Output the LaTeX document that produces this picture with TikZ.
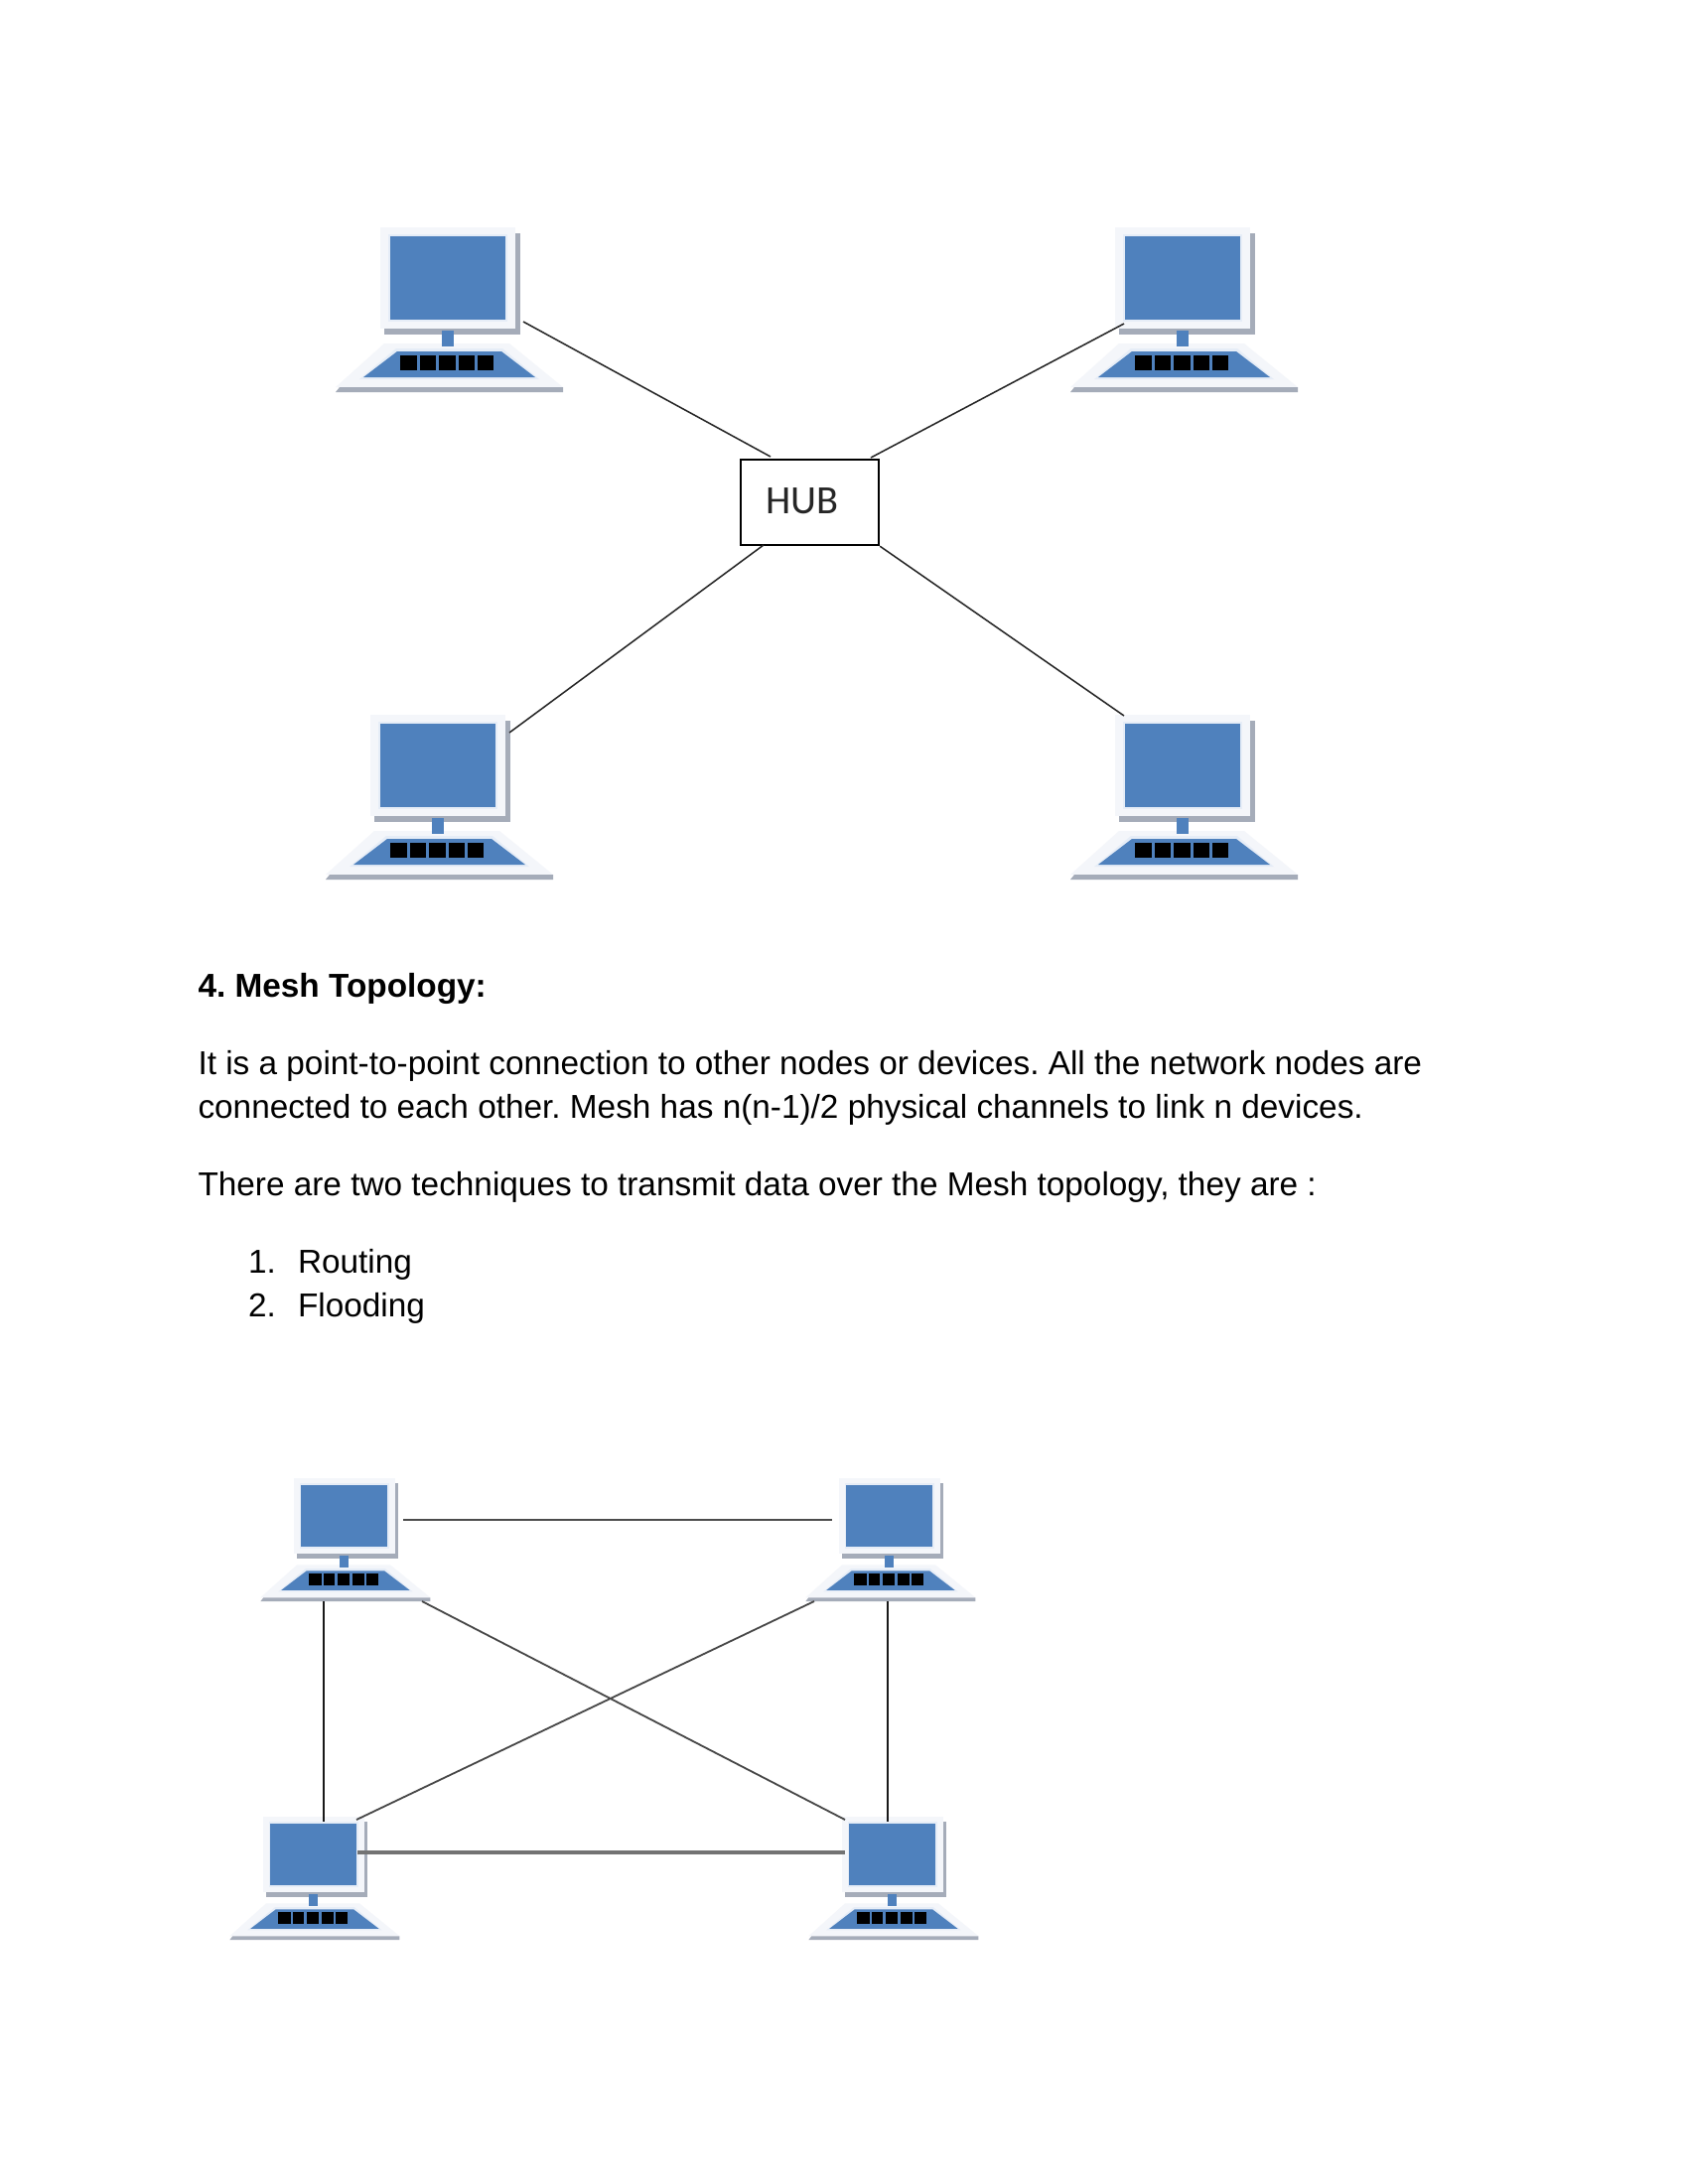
\documentclass[tikz,border=0pt]{standalone}
\usepackage{fontspec}
\setmainfont{Liberation Sans}
\newfontfamily\hubfont{Carlito}
\definecolor{pcblue}{HTML}{4F81BD}
\definecolor{pcglow}{HTML}{E6EDF7}
\definecolor{pcbezel}{HTML}{F4F6FA}
\definecolor{pcshadow}{HTML}{A5ACB9}
\tikzset{
  body/.style={anchor=base west,inner sep=0pt,outer sep=0pt,font=\frenchspacing\fontsize{12.05pt}{14pt}\selectfont,text=black},
  headtext/.style={body,font=\frenchspacing\fontsize{12.05pt}{14pt}\selectfont\bfseries},
  hubbox/.style={draw=black,line width=0.8bp,fill=white,anchor=north west,inner sep=0pt,minimum width=50.04bp,minimum height=30.96bp},
  hubline/.style={draw=black!85,line width=0.55bp},
  meshv/.style={draw=black!90,line width=0.6bp},
  meshd/.style={draw=black!72,line width=0.65bp},
  meshh/.style={draw=black!70,line width=0.75bp},
  meshb/.style={draw=black!55,line width=1.1bp}
}
% #1 name, #2 x, #3 y, #4 scale
\newcommand{\pcicon}[4]{%
  \begin{scope}[shift={(#2,#3)},scale=#4]
    \fill[pcshadow] (136,6) rectangle (141,108);
    \fill[pcshadow] (4,102) rectangle (141,108);
    \fill[pcbezel] (0,0) rectangle (136,102);
    \fill[pcglow] (8,7) rectangle (128,95);
    \fill[pcblue] (10,9) rectangle (126,93);
    \fill[pcbezel] (4,117) -- (130,117) -- (184,161) -- (-45,161) -- cycle;
    \fill[pcglow] (16,122) -- (123,122) -- (160,153) -- (-21,153) -- cycle;
    \fill[pcblue] (17,125) -- (122,125) -- (156,151) -- (-17,151) -- cycle;
    \fill[pcblue] (62,104) rectangle (74,120);
    \fill[black] (20,129) rectangle (37,144);
    \fill[black] (39.5,129) rectangle (55.5,144);
    \fill[black] (59,129) rectangle (75.5,144);
    \fill[black] (78.5,129) rectangle (95,144);
    \fill[black] (98,129) rectangle (114,144);
    \fill[pcshadow] (-41,161) -- (184,161) -- (184,166) -- (-45,166) -- cycle;
    \coordinate (#1) at (68,50);
  \end{scope}}
\begin{document}
\begin{tikzpicture}[x=0.36bp,y=-0.36bp]
  \useasboundingbox (0,0) rectangle (1700,2200);
  \fill[white] (0,0) rectangle (1700,2200);

  % star topology
  \pcicon{sa}{383}{229}{1}
  \pcicon{sb}{1123}{229}{1}
  \pcicon{sc}{373}{720}{1}
  \pcicon{sd}{1123}{720}{1}
  \node[hubbox] (hub) at (745,462) {};
  \node[anchor=base west,inner sep=0pt,font=\hubfont\fontsize{14.6pt}{16pt}\selectfont,text=black!85] (hublabel) at (771,517) {HUB};
  \coordinate (saEnd) at (527,324);
  \coordinate (sbEnd) at (1132,326);
  \coordinate (scEnd) at (513,738);
  \coordinate (sdEnd) at (1132,721);
  \coordinate (hubA) at (776,460);
  \coordinate (hubB) at (877,461);
  \coordinate (hubC) at (769,549);
  \draw[hubline] (saEnd) -- (hubA);
  \draw[hubline] (sbEnd) -- (hubB);
  \draw[hubline] (scEnd) -- (hubC);
  \draw[hubline] (sdEnd) -- (hub.south east);

  % text
  \node[headtext] (head) at (199.5,1004) {4. Mesh Topology:};
  \node[body] (para1) at (199.5,1082) {It is a point-to-point connection to other nodes or devices. All the network nodes are};
  \node[body] (para2) at (199.5,1126) {connected to each other. Mesh has n(n-1)/2 physical channels to link n devices.};
  \node[body] (para3) at (199.5,1204) {There are two techniques to transmit data over the Mesh topology, they are :};
  \node[body] (num1) at (250,1282) {1.};
  \node[body] (item1) at (300,1282) {Routing};
  \node[body] (num2) at (250,1326) {2.};
  \node[body] (item2) at (300,1326) {Flooding};

  % mesh topology
  \pcicon{ma}{296}{1489}{0.747}
  \pcicon{mb}{845}{1489}{0.747}
  \pcicon{mc}{265}{1830}{0.747}
  \pcicon{md}{848}{1830}{0.747}
  \coordinate (abL) at (406,1531);
  \coordinate (abR) at (838,1531);
  \coordinate (acT) at (326,1613);
  \coordinate (acB) at (326,1835);
  \coordinate (bdT) at (894,1613);
  \coordinate (bdB) at (894,1835);
  \coordinate (adT) at (425,1613);
  \coordinate (adB) at (851,1833);
  \coordinate (bcT) at (820,1613);
  \coordinate (bcB) at (359,1833);
  \coordinate (cdL) at (360,1866);
  \coordinate (cdR) at (851,1866);
  \draw[meshh] (abL) -- (abR);
  \draw[meshv] (acT) -- (acB);
  \draw[meshv] (bdT) -- (bdB);
  \draw[meshd] (adT) -- (adB);
  \draw[meshd] (bcT) -- (bcB);
  \draw[meshb] (cdL) -- (cdR);
\end{tikzpicture}
\end{document}
